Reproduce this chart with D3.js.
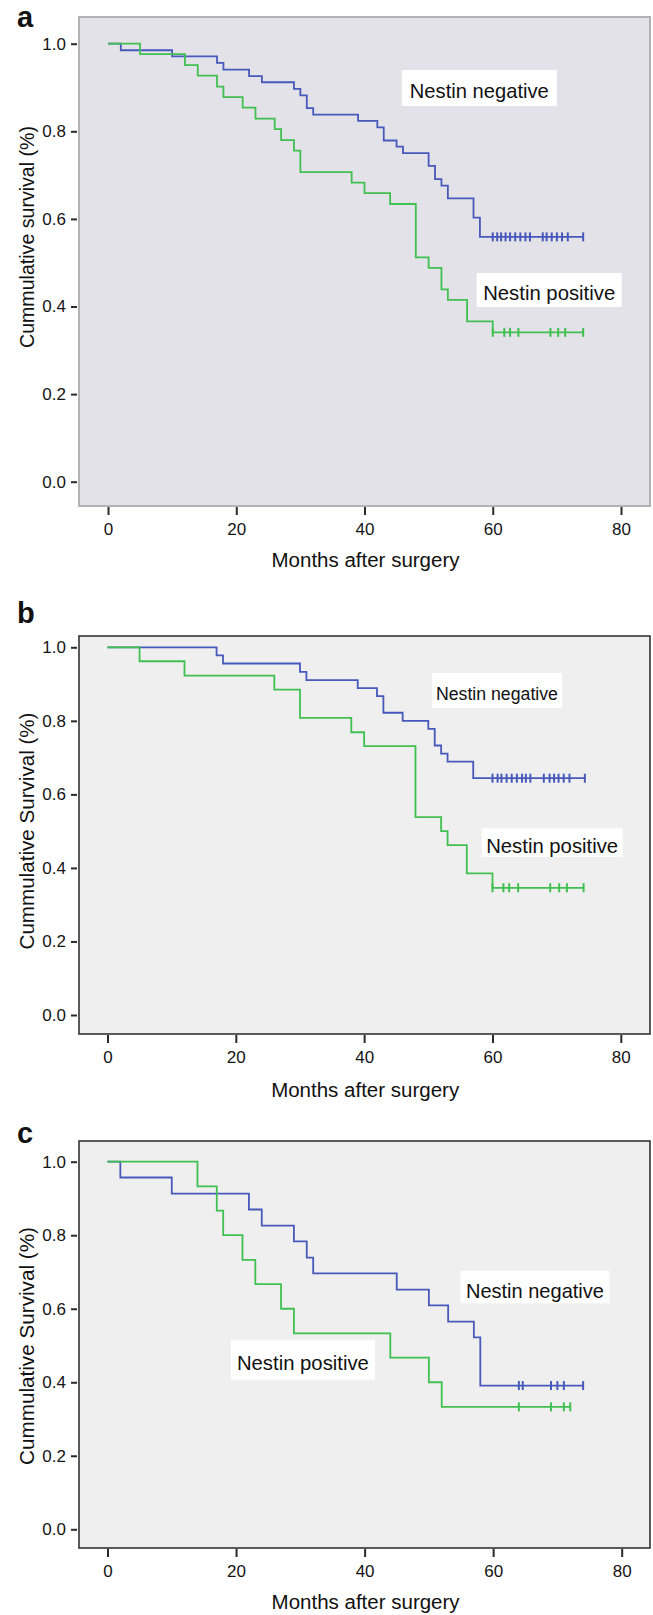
<!DOCTYPE html>
<html>
<head>
<meta charset="utf-8">
<script src="https://cdnjs.cloudflare.com/ajax/libs/d3/7.8.5/d3.min.js"></script>
<style>
  body { margin: 0; background: #fff; }
  text { font-family: "Liberation Sans", Arial, sans-serif; }
</style>
</head>
<body>
<div id="canvas"></div>
<script>
// months after surgery / cumulative survival
const a_neg_time = [0, 2, 10, 17, 18, 22, 24, 29, 30, 31, 32, 39, 42, 43, 45, 46, 50, 51, 52, 53, 57, 58];
const a_neg_surv = [1, 0.985, 0.971, 0.956, 0.941, 0.926, 0.912, 0.897, 0.882, 0.853, 0.838, 0.824, 0.809, 0.779, 0.765, 0.750, 0.721, 0.691, 0.676, 0.647, 0.603, 0.559];
const a_neg_censor = [60, 60.7, 61.3, 62, 62.7, 63.5, 64.3, 65.1, 65.8, 67.8, 68.4, 69.2, 70, 70.8, 71.7, 74.1];

const a_pos_time = [0, 5, 12, 14, 17, 18, 21, 23, 26, 27, 29, 30, 38, 40, 44, 48, 50, 52, 53, 56, 60];
const a_pos_surv = [1, 0.976, 0.951, 0.927, 0.902, 0.878, 0.854, 0.829, 0.805, 0.780, 0.756, 0.707, 0.683, 0.659, 0.634, 0.512, 0.488, 0.439, 0.415, 0.366, 0.341];
const a_pos_censor = [60, 61.8, 62.7, 64, 69, 70.2, 71.3, 74.1];

const b_neg_time = [0, 17, 18, 30, 31, 39, 42, 43, 46, 50, 51, 52, 53, 57];
const b_neg_surv = [1, 0.978, 0.956, 0.933, 0.911, 0.889, 0.867, 0.822, 0.800, 0.778, 0.733, 0.711, 0.689, 0.644];
const b_neg_censor = [60, 60.8, 61.4, 62.2, 63, 63.8, 64.6, 65.2, 65.9, 68, 68.9, 69.6, 70.3, 71.1, 72, 74.4];

const b_pos_time = [0, 5, 12, 26, 30, 38, 40, 48, 52, 53, 56, 60];
const b_pos_surv = [1, 0.962, 0.923, 0.885, 0.808, 0.769, 0.731, 0.538, 0.500, 0.462, 0.385, 0.346];
const b_pos_censor = [60, 61.7, 62.6, 64, 69, 70.4, 71.6, 74.2];

const c_neg_time = [0, 2, 10, 22, 24, 29, 31, 32, 45, 50, 53, 57, 58];
const c_neg_surv = [1, 0.957, 0.913, 0.870, 0.826, 0.783, 0.739, 0.696, 0.652, 0.609, 0.565, 0.522, 0.391];
const c_neg_censor = [64, 64.6, 69, 70, 71, 74];

const c_pos_time = [0, 14, 17, 18, 21, 23, 27, 29, 44, 50, 52];
const c_pos_surv = [1, 0.933, 0.867, 0.800, 0.733, 0.667, 0.600, 0.533, 0.467, 0.400, 0.333];
const c_pos_censor = [64, 69, 71, 72];

const x_ticks = [0, 20, 40, 60, 80];
const y_ticks = [0, 0.2, 0.4, 0.6, 0.8, 1.0];
const panel_letters = ['a', 'b', 'c'];
const y_titles = ['Cummulative survival (%)', 'Cummulative Survival (%)', 'Cummulative Survival (%)'];
const x_title = 'Months after surgery';
const group_names = ['Nestin negative', 'Nestin positive'];

const blue = '#4759ba';
const green = '#40c050';

// pixel layout of each panel
const layouts = [
  { top: 17, bottom: 506, y0: 481.7, y1: 43.7, x0: 108, x80: 621, bg: '#e3e2e8', border: '#b3b2b7', borderW: 2,
    letterY: 27, titleY: 566.5, yTitleC: 237, yTitleL: 222,
    labels: [
      { m: 57.9, v: 0.876, w: 139, fs: 21, px: 8, top: 28, bot: 8 },
      { m: 68.8, v: 0.415, w: 132, fs: 21, px: 6.5, top: 27, bot: 7 }
    ] },
  { top: 636, bottom: 1034, y0: 1015, y1: 647.3, x0: 107.5, x80: 620.8, bg: '#efefef', border: '#333', borderW: 1.6,
    letterY: 623, titleY: 1097, yTitleC: 831, yTitleL: 237,
    labels: [
      { m: 60.7, v: 0.857, w: 122, fs: 17.5, px: 4, top: 27, bot: 8 },
      { m: 69.3, v: 0.441, w: 132, fs: 21, px: 4.5, top: 24.5, bot: 4 }
    ] },
  { top: 1141, bottom: 1548, y0: 1529.3, y1: 1161.7, x0: 107.5, x80: 621.7, bg: '#efefef', border: '#333', borderW: 1.6,
    letterY: 1143, titleY: 1609, yTitleC: 1346, yTitleL: 238,
    labels: [
      { m: 66.5, v: 0.630, w: 138, fs: 21, px: 5.5, top: 27, bot: 5.6 },
      { m: 30.4, v: 0.434, w: 132, fs: 21, px: 6, top: 30, bot: 10 }
    ] }
];

const series = [
  [
    { time: a_neg_time, surv: a_neg_surv, censor: a_neg_censor, color: blue },
    { time: a_pos_time, surv: a_pos_surv, censor: a_pos_censor, color: green }
  ],
  [
    { time: b_neg_time, surv: b_neg_surv, censor: b_neg_censor, color: blue },
    { time: b_pos_time, surv: b_pos_surv, censor: b_pos_censor, color: green }
  ],
  [
    { time: c_neg_time, surv: c_neg_surv, censor: c_neg_censor, color: blue },
    { time: c_pos_time, surv: c_pos_surv, censor: c_pos_censor, color: green }
  ]
];

const svg = d3.select('#canvas')
  .append('svg')
  .attr('width', 653)
  .attr('height', 1615)
  .style('display', 'block');

layouts.forEach((p, i) => drawPanel(p, i));

function drawPanel(p, i) {
  const x = d3.scaleLinear().domain([0, 80]).range([p.x0, p.x80]);
  const y = d3.scaleLinear().domain([0, 1]).range([p.y0, p.y1]);
  const g = svg.append('g');

  g.append('rect')
    .attr('x', 79)
    .attr('y', p.top)
    .attr('width', 571)
    .attr('height', p.bottom - p.top)
    .attr('fill', p.bg)
    .attr('stroke', p.border)
    .attr('stroke-width', p.borderW);

  const yAxis = g.append('g')
    .attr('transform', 'translate(77,0)')
    .call(d3.axisLeft(y).tickValues(y_ticks).tickFormat(d3.format('.1f')).tickSize(6).tickPadding(5));
  yAxis.select('.domain').remove();
  yAxis.selectAll('line').attr('stroke', '#2a2a2a').attr('stroke-width', 2);
  yAxis.selectAll('text')
    .attr('font-size', 17)
    .attr('fill', '#151515')
    .attr('font-family', '"Liberation Sans", Arial, sans-serif');

  const xAxis = g.append('g')
    .attr('transform', `translate(0,${p.bottom + 1})`)
    .call(d3.axisBottom(x).tickValues(x_ticks).tickSize(8).tickPadding(8));
  xAxis.select('.domain').remove();
  xAxis.selectAll('line').attr('stroke', '#2a2a2a').attr('stroke-width', 2);
  xAxis.selectAll('text')
    .attr('font-size', 17)
    .attr('fill', '#151515')
    .attr('font-family', '"Liberation Sans", Arial, sans-serif');

  const line = d3.line()
    .x((d) => x(d[0]))
    .y((d) => y(d[1]))
    .curve(d3.curveStepAfter);

  series[i].forEach((s) => {
    const pts = s.time.map((t, k) => [t, s.surv[k]]);
    pts.push([d3.max(s.censor), s.surv[s.surv.length - 1]]);
    const survAt = (t) => s.surv[d3.bisectRight(s.time, t) - 1];

    g.append('path')
      .datum(pts)
      .attr('d', line)
      .attr('fill', 'none')
      .attr('stroke', s.color)
      .attr('stroke-width', 1.8);

    g.selectAll(null)
      .data(s.censor)
      .join('line')
      .attr('x1', (d) => x(d))
      .attr('x2', (d) => x(d))
      .attr('y1', (d) => y(survAt(d)) - 4.5)
      .attr('y2', (d) => y(survAt(d)) + 4.5)
      .attr('stroke', s.color)
      .attr('stroke-width', 2);
  });

  // group labels on white boxes
  p.labels.forEach((l, k) => {
    const cx = x(l.m);
    const by = y(l.v);
    g.append('rect')
      .attr('x', cx - l.w / 2 - l.px)
      .attr('y', by - l.top)
      .attr('width', l.w + 2 * l.px)
      .attr('height', l.top + l.bot)
      .attr('fill', '#fff');
    g.append('text')
      .attr('x', cx)
      .attr('y', by)
      .attr('text-anchor', 'middle')
      .attr('font-size', l.fs)
      .attr('fill', '#111')
      .attr('textLength', l.w)
      .attr('lengthAdjust', 'spacingAndGlyphs')
      .text(group_names[k]);
  });

  g.append('text')
    .attr('x', 17)
    .attr('y', p.letterY)
    .attr('font-size', 29)
    .attr('font-weight', 'bold')
    .attr('fill', '#111')
    .text(panel_letters[i]);

  g.append('text')
    .attr('transform', `translate(34,${p.yTitleC}) rotate(-90)`)
    .attr('text-anchor', 'middle')
    .attr('font-size', 20)
    .attr('fill', '#111')
    .attr('textLength', p.yTitleL)
    .attr('lengthAdjust', 'spacingAndGlyphs')
    .text(y_titles[i]);

  g.append('text')
    .attr('x', (x(0) + x(80)) / 2 + 1)
    .attr('y', p.titleY)
    .attr('text-anchor', 'middle')
    .attr('font-size', 20)
    .attr('fill', '#111')
    .attr('textLength', 188)
    .attr('lengthAdjust', 'spacingAndGlyphs')
    .text(x_title);
}
</script>
</body>
</html>
